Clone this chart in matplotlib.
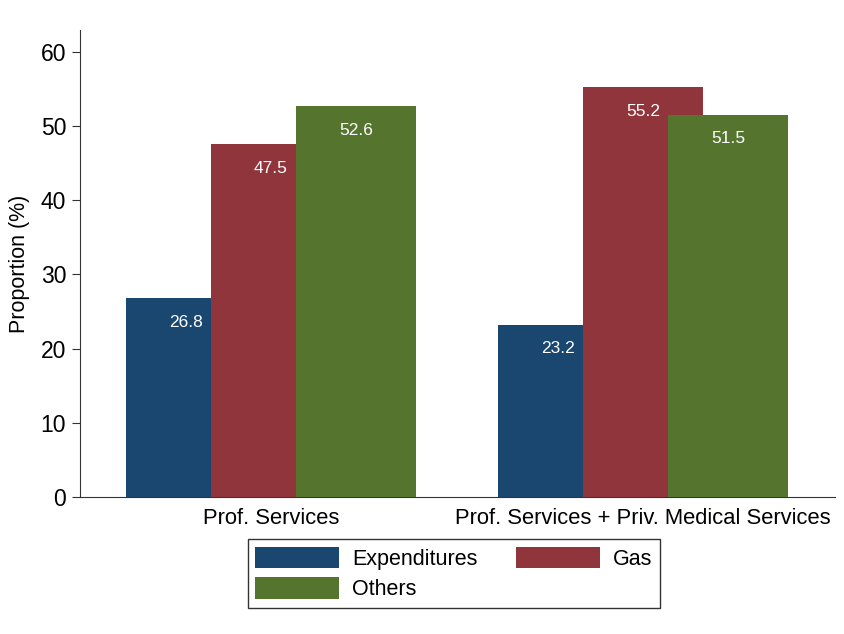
import matplotlib
matplotlib.use('Agg')
import matplotlib.pyplot as plt
import numpy as np

plt.rcParams['font.family'] = ['Liberation Sans', 'DejaVu Sans']

groups = ['Prof. Services', 'Prof. Services + Priv. Medical Services']
series = ['Expenditures', 'Gas', 'Others']
expenditures = [26.8, 23.2]
gas = [47.5, 55.2]
others = [52.6, 51.5]
colors = ['#1a476f', '#90353b', '#55752f']

values = [expenditures, gas, others]
x = np.arange(len(groups))
offset = 0.2285
width = 0.323

fig = plt.figure(figsize=(8.45, 6.34), dpi=100)
ax = fig.add_axes([0.0947, 0.2161, 0.8933, 0.7366])

handles = []
for i, (name, vals, col) in enumerate(zip(series, values, colors)):
    pos = x + (i - 1) * offset
    bars = ax.bar(pos, vals, width=width, color=col, label=name, zorder=2 + i)
    handles.append(bars)
    for p, v in zip(pos, vals):
        ax.annotate('%.1f' % v, (p, v), xytext=(0, -12),
                    textcoords='offset points', ha='center', va='top',
                    color='white', fontsize=12.5, zorder=10)

ax.set_xlim(-0.513, 1.516)
ax.set_ylim(0, 62.9)
ax.set_yticks(range(0, 61, 10))
ax.set_xticks(x)
ax.set_xticklabels(groups, fontsize=15.8)
ax.tick_params(axis='x', length=0, pad=8)
ax.tick_params(axis='y', labelsize=16.5, length=6, color='#333333', pad=4)
ax.set_ylabel('Proportion (%)', fontsize=15.5, labelpad=8)
for s in ['top', 'right']:
    ax.spines[s].set_visible(False)
for s in ['left', 'bottom']:
    ax.spines[s].set_color('#333333')

# reorder so legend fills row-wise: Expenditures, Gas / Others
order = [0, 2, 1]
leg = fig.legend([handles[k] for k in order], [series[k] for k in order],
                 ncol=2, loc='center', bbox_to_anchor=(0.537, 0.0954),
                 fontsize=15.5, frameon=True, fancybox=False,
                 handlelength=3.9, handleheight=1.15, columnspacing=1.8,
                 handletextpad=0.6, labelspacing=0.35, borderpad=0.35)
leg.get_frame().set_edgecolor('black')
leg.get_frame().set_linewidth(1.0)

fig.savefig('out.png', dpi=100)
